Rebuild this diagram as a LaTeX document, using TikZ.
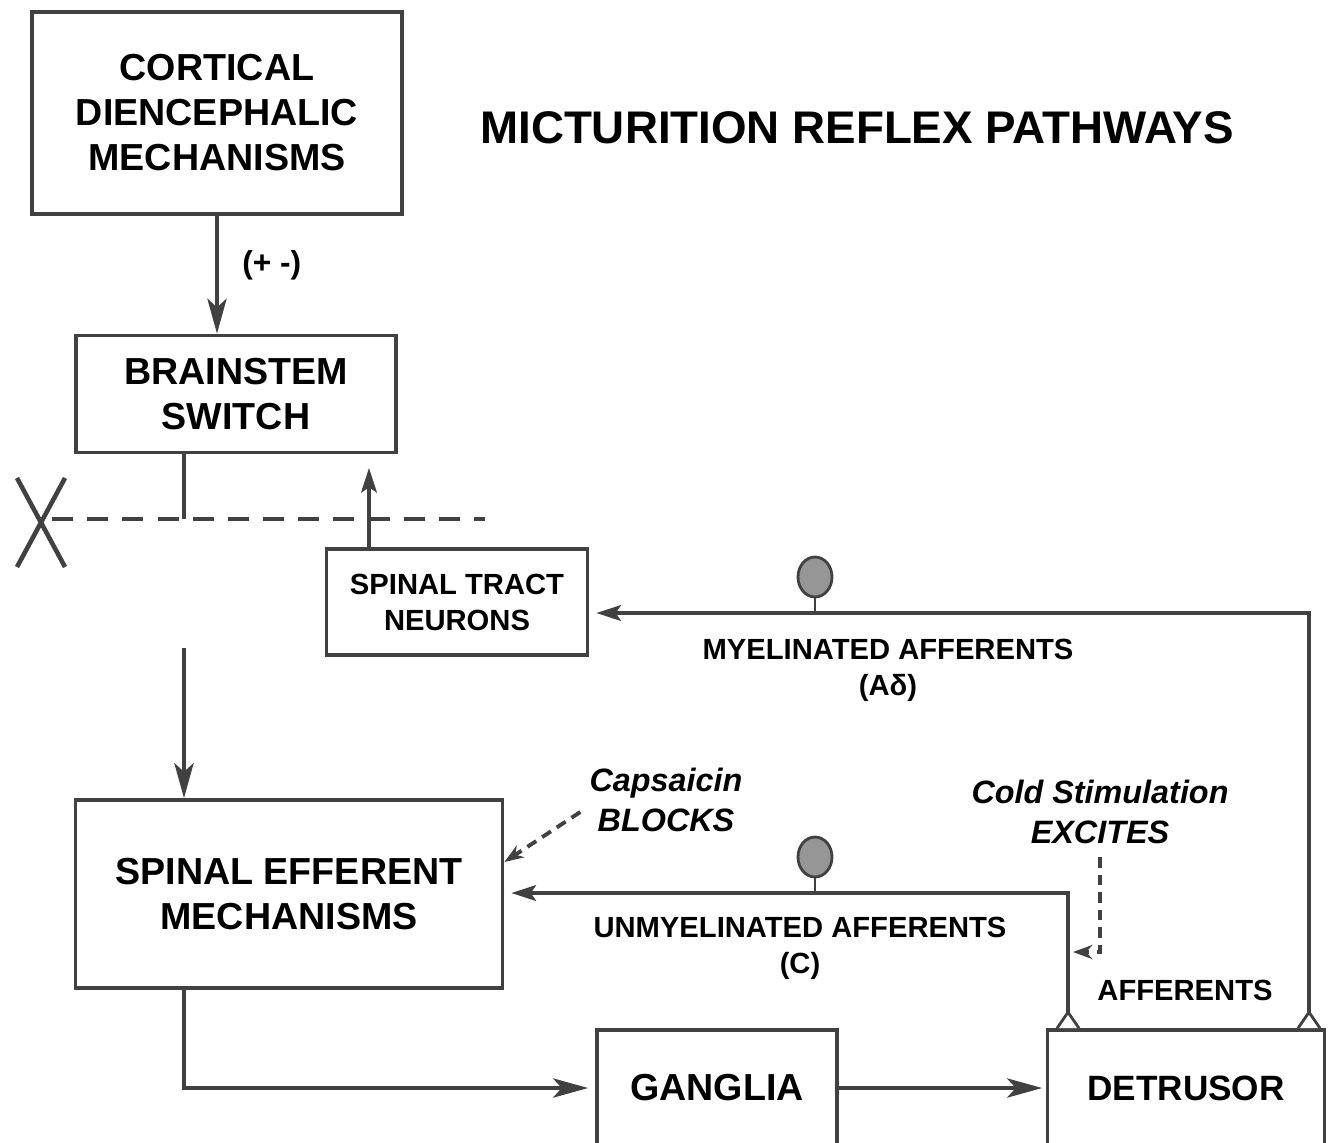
\documentclass[tikz,border=0pt]{standalone}
\usepackage{fontspec}
\setmainfont{Liberation Sans}
\usetikzlibrary{arrows.meta,shapes.geometric}

\definecolor{ink}{RGB}{65,65,65}
\definecolor{soma}{RGB}{150,150,150}
\newcommand{\boxfont}{\bfseries\fontsize{10.7}{12.8}\selectfont}
\newcommand{\tagfont}{\bfseries\fontsize{8.3}{10.2}\selectfont}

\begin{document}
\begin{tikzpicture}[
	x=0.01cm, y=-0.01cm,
	line width=0.9pt,
	bigtip/.style={-{Stealth[length=10pt, width=5.5pt, inset=2.5pt]}},
	smalltip/.style={-{Stealth[length=7pt, width=4.5pt, inset=1.5pt]}},
	block/.style={draw=ink, line width=1pt, align=center, font=\boxfont},
	tag/.style={align=center, font=\tagfont},
	hint/.style={align=center, font=\bfseries\itshape\fontsize{9.2}{11.3}\selectfont},
	hintline/.style={ink, line width=1.1pt, dash pattern=on 3pt off 2pt, -{Stealth[length=5.5pt, width=4pt]}},
	cell/.style={ellipse, draw=ink, fill=soma, line width=0.8pt, inner sep=0pt, minimum width=0.34cm, minimum height=0.4cm}
	]

	\useasboundingbox (0, 0) rectangle (1331, 1142);

	% boxes
	\node (cortical) at (217, 113) [block, minimum width=3.7cm, minimum height=2.02cm] {CORTICAL\\DIENCEPHALIC\\MECHANISMS};
	\node (title) at (857, 128) [font=\bfseries\fontsize{13}{15}\selectfont] {MICTURITION REFLEX PATHWAYS};
	\node (brainstem) at (236, 394) [block, minimum width=3.2cm, minimum height=1.17cm] {BRAINSTEM\\SWITCH};
	\node (tract) at (457, 602) [block, font=\tagfont, minimum width=2.61cm, minimum height=1.06cm] {SPINAL TRACT\\NEURONS};
	\node (efferent) at (289, 894) [block, minimum width=4.27cm, minimum height=1.88cm] {SPINAL EFFERENT\\MECHANISMS};
	\node (ganglia) at (717, 1088) [block, minimum width=2.4cm, minimum height=1.16cm] {GANGLIA};
	\node (detrusor) at (1186, 1088) [block, font=\bfseries\fontsize{10}{12}\selectfont, minimum width=2.77cm, minimum height=1.16cm] {DETRUSOR};

	% brain to brainstem
	\draw [bigtip, ink] (cortical.south) -- (cortical.south |- brainstem.north) node [pos=0.42, anchor=west, xshift=0.12cm, font=\bfseries\fontsize{9}{11}\selectfont, text=black] {(+ -)};

	% spinal cut
	\coordinate (stub) at (184, 519);
	\coordinate (cutL) at (52, 519);
	\coordinate (cutR) at (485, 519);
	\draw [ink] (brainstem.south -| stub) -- (stub);
	\draw [ink, dash pattern=on 6pt off 4pt] (cutL) -- (cutR);
	\draw [ink, line width=1.3pt] (17, 478) -- (65, 567);
	\draw [ink, line width=1.3pt] (65, 478) -- (17, 567);

	\coordinate (upTip) at (369, 468);
	\draw [smalltip, ink] (upTip |- tract.north) -- (upTip);

	\coordinate (downTail) at (184, 648);
	\draw [bigtip, ink] (downTail) -- (downTail |- efferent.north);

	% afferents
	\coordinate (myCorner) at (1309, 613);
	\coordinate (unCorner) at (1068, 893);
	\draw [ink, fill=white, line width=0.8pt] (myCorner |- detrusor.north) ++(-11, 0) -- ++(11, -16) -- ++(11, 16);
	\draw [ink, fill=white, line width=0.8pt] (unCorner |- detrusor.north) ++(-11, 0) -- ++(11, -16) -- ++(11, 16);
	\draw [smalltip, ink, shorten >=2pt] (myCorner |- detrusor.north) ++(0, -16) -- (myCorner) -- (tract.east |- myCorner);
	\draw [smalltip, ink, shorten >=2pt] (unCorner |- detrusor.north) ++(0, -16) -- (unCorner) -- (efferent.east |- unCorner);

	\node (cellA) at (815, 577) [cell] {};
	\node (cellC) at (815, 857) [cell] {};
	\draw [ink, line width=0.8pt] (cellA.south) -- (cellA.south |- myCorner);
	\draw [ink, line width=0.8pt] (cellC.south) -- (cellC.south |- unCorner);

	\node (myelinated) at (888, 670) [tag] {MYELINATED AFFERENTS\\(Aδ)};
	\node (unmyelinated) at (800, 948) [tag] {UNMYELINATED AFFERENTS\\(C)};
	\node (afferents) at (1185, 990) [tag] {AFFERENTS};

	% drugs and stimuli
	\node (capsaicin) at (666, 800) [hint] {Capsaicin\\BLOCKS};
	\node (cold) at (1100, 812) [hint] {Cold Stimulation\\EXCITES};
	\draw [hintline] (capsaicin.west) ++(4, 12) -- (efferent.east |- 0, 862);
	\coordinate (coldTip) at (1073, 952);
	\draw [hintline] (cold.south) -- (cold.south |- coldTip) -- (coldTip);

	% outflow
	\draw [bigtip, ink, shorten >=2pt] (efferent.south -| downTail) |- (ganglia.west);
	\draw [bigtip, ink, shorten >=1pt] (ganglia.east) -- (detrusor.west);
\end{tikzpicture}
\end{document}
